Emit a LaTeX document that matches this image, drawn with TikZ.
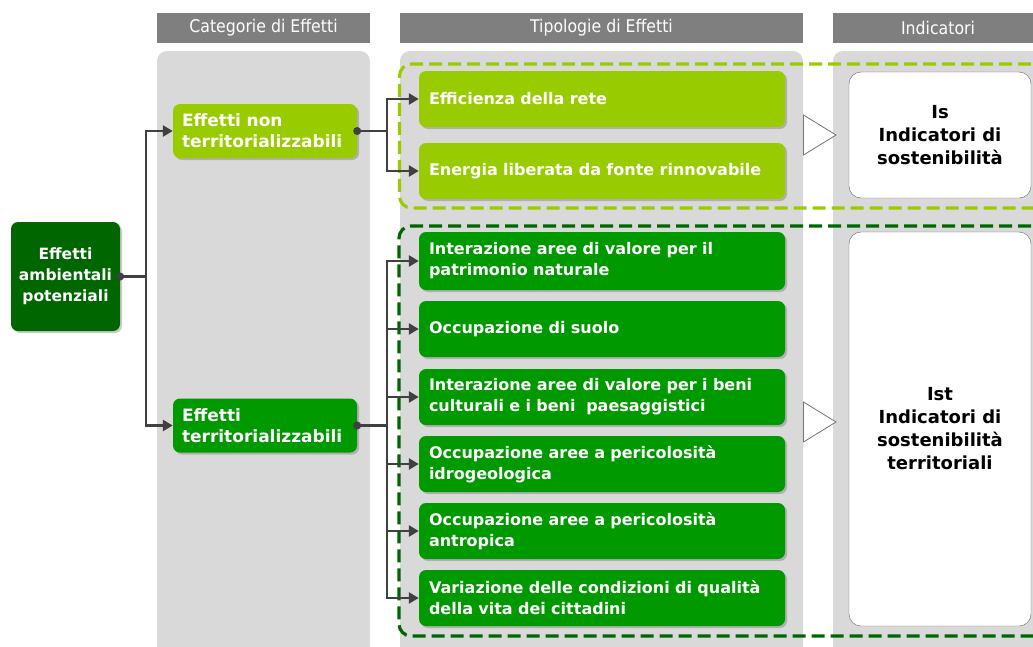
\documentclass[tikz,border=0pt]{standalone}
\usepackage{fontspec}
\setmainfont{DejaVu Sans}
\newfontfamily\hdrfont{DejaVu Sans Condensed}
\usetikzlibrary{arrows.meta,shadows}
\definecolor{lgreen}{HTML}{99CC00}
\definecolor{mgreen}{HTML}{009900}
\definecolor{dgreen}{HTML}{006600}
\definecolor{hdr}{HTML}{7F7F7F}
\definecolor{colbg}{HTML}{D9D9D9}
\definecolor{conn}{HTML}{404040}
\tikzset{
  hdrbox/.style={fill=hdr, text=white, minimum height=30pt, inner sep=0pt, font=\hdrfont\fontsize{17.5}{20}\selectfont},
  colbox/.style={fill=colbg, rounded corners=10pt},
  effbox/.style={rounded corners=7pt, text=white, font=\bfseries\fontsize{16}{21}\selectfont,
     drop shadow={shadow xshift=2pt, shadow yshift=-2pt, opacity=0.35, fill=black!60}},
  typbox/.style={effbox, minimum width=366pt, text width=346pt, align=left, inner sep=0pt},
  catbox/.style={effbox, font=\bfseries\fontsize{17}{21}\selectfont, minimum width=184pt, minimum height=54pt, text width=166pt, align=left, inner sep=0pt},
  indbox/.style={draw=black!60, fill=white, rounded corners=12pt, minimum width=182pt, align=center,
     font=\bfseries\fontsize{18}{23}\selectfont, inner sep=0pt},
  link/.style={draw=conn, line width=2.5pt, -{Triangle[length=10pt,width=11pt]}},
  dotstart/.style={fill=conn, circle, inner sep=0pt, minimum size=8pt},
  tri/.style={draw=black!55, fill=white, line width=0.8pt},
  dashbox/.style={line width=3.2pt, dash pattern=on 13pt off 6pt, rounded corners=12pt}
}
\begin{document}
\begin{tikzpicture}[x=1pt,y=-1pt]
\useasboundingbox (0,0) rectangle (1033,646);
% header bars
\node[hdrbox, minimum width=213pt] (h1) at (263.5,28) {Categorie di Effetti};
\node[hdrbox, minimum width=403pt] (h2) at (601.5,28) {Tipologie di Effetti};
\node[hdrbox, minimum width=210pt] (h3) at (938,28) {Indicatori};
% column backgrounds
\begin{scope}
\clip (0,0) rectangle (1033,646);
\fill[colbox] (157,51) rectangle (370,700);
\fill[colbox] (400,51) rectangle (803,700);
\fill[colbox] (833,51) rectangle (1060,700);
% dashed groups
\draw[dashbox, draw=lgreen] (1050,64) -- (399.5,64) -- (399.5,208) -- (1050,208);
\draw[dashbox, draw=dgreen] (1050,226) -- (399,226) -- (399,636) -- (1050,636);
\end{scope}
% root
\node[effbox, font=\bfseries\fontsize{15.5}{21}\selectfont, fill=dgreen, minimum width=109pt, minimum height=109pt, align=center, inner sep=0pt] (root) at (65.5,276.5) {Effetti\\ambientali\\potenziali};
% categories
\node[catbox, fill=lgreen] (c1) at (265,131) {Effetti non\\territorializzabili};
\node[catbox, fill=mgreen] (c2) at (265,425.5) {Effetti\\territorializzabili};
% typologies
\node[typbox, fill=lgreen, minimum height=56pt] (t1) at (602,99) {Efficienza della rete};
\node[typbox, fill=lgreen, minimum height=56pt] (t2) at (602,171) {Energia liberata da fonte rinnovabile};
\node[typbox, fill=mgreen, minimum height=58pt] (d1) at (602,261) {Interazione aree di valore per il\\patrimonio naturale};
\node[typbox, fill=mgreen, minimum height=56pt] (d2) at (602,329) {Occupazione di suolo};
\node[typbox, fill=mgreen, minimum height=56pt] (d3) at (602,397) {Interazione aree di valore per i beni\\culturali e i beni\ \ paesaggistici};
\node[typbox, fill=mgreen, minimum height=56pt] (d4) at (602,464) {Occupazione aree a pericolosità\\idrogeologica};
\node[typbox, fill=mgreen, minimum height=56pt] (d5) at (602,531) {Occupazione aree a pericolosità\\antropica};
\node[typbox, fill=mgreen, minimum height=56pt] (d6) at (602,598) {Variazione delle condizioni di qualità\\della vita dei cittadini};
% indicators
\node[indbox, minimum height=126pt] (i1) at (940,135) {Is\\Indicatori di\\sostenibilità};
\node[indbox, minimum height=394pt] (i2) at (940,429) {Ist\\Indicatori di\\sostenibilità\\territoriali};
% triangles
\draw[tri] (803.5,115) -- (836,135) -- (803.5,155) -- cycle;
\draw[tri] (803.5,402) -- (836,422) -- (803.5,442) -- cycle;
% connectors
\coordinate (b0) at (146,276.5);
\coordinate (b1) at (387,131);
\coordinate (b2) at (387,425.5);
\draw[link] (root.east) -- (b0) |- (c1.west);
\draw[link] (b0) |- (c2.west);
\draw[link] (c1.east) -- (b1) |- (t1.west);
\draw[link] (b1) |- (t2.west);
\foreach \n in {d1,d2,d3,d4,d5,d6} {\draw[link] (c2.east) -- (b2) |- (\n.west);}
\node[dotstart] (p0) at (root.east) {};
\node[dotstart] (p1) at (c1.east) {};
\node[dotstart] (p2) at (c2.east) {};
\end{tikzpicture}
\end{document}
